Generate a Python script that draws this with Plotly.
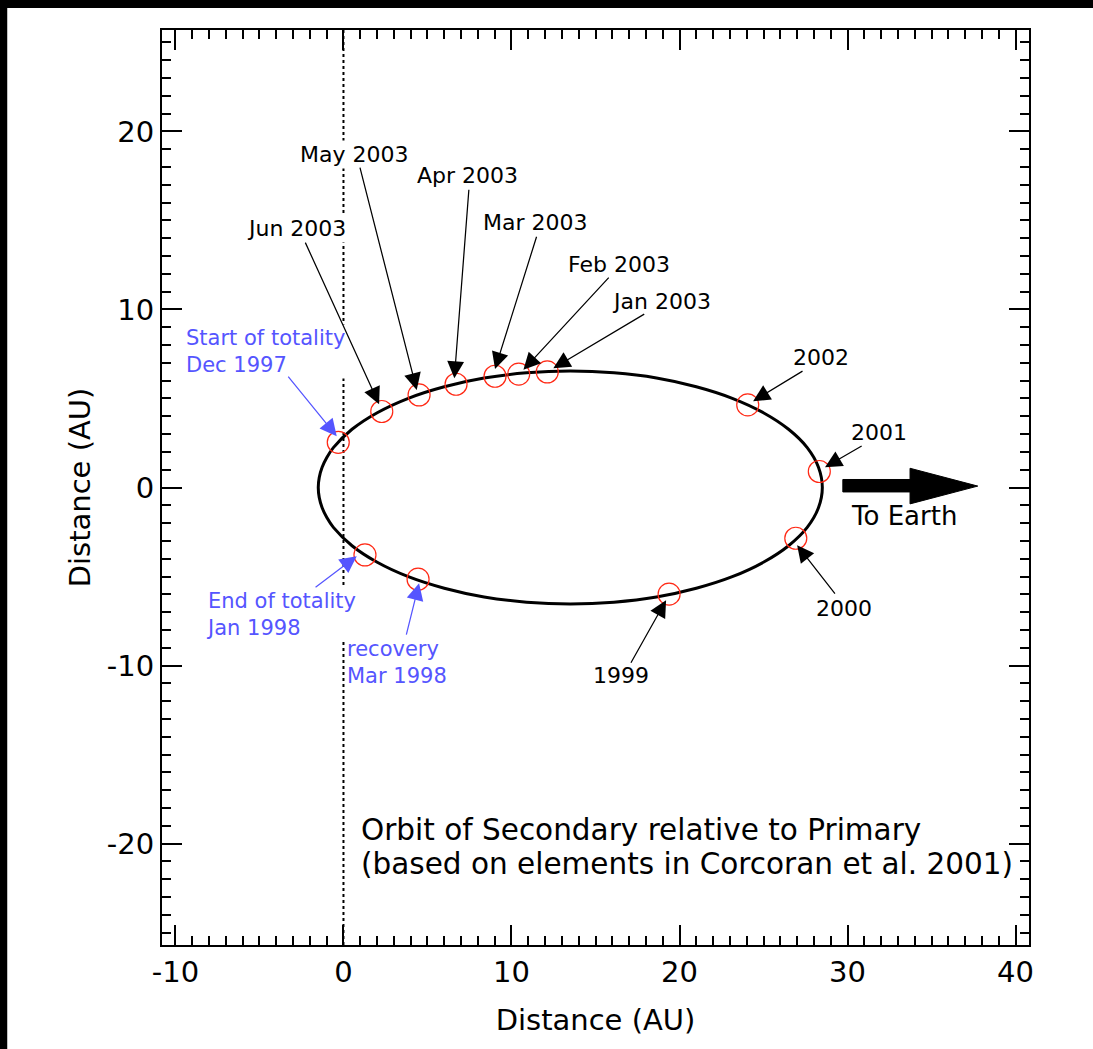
import plotly.graph_objects as go

# ---------------- data ----------------
# relative orbit of the secondary (AU)
orbit_x = [28.50, 28.27, 27.60, 26.49, 24.99, 23.14, 21.00, 18.63, 16.10, 13.50,
           10.90, 8.37, 6.00, 3.86, 2.01, 0.51, -0.60, -0.99, -1.27, -1.44, -1.50,
           -1.44, -1.27, -0.99, -0.60, 0.51, 2.01, 3.86, 6.00, 8.37, 10.90,
           13.50, 16.10, 18.63, 21.00, 23.14, 24.99, 26.49, 27.60, 28.27, 28.50]
orbit_y = [0.00, 1.14, 2.24, 3.27, 4.20, 5.01, 5.66, 6.15, 6.44, 6.54,
           6.44, 6.15, 5.66, 5.01, 4.20, 3.27, 2.24, 1.69, 1.14, 0.57, 0.00,
           -0.57, -1.14, -1.69, -2.24, -3.27, -4.20, -5.01, -5.66, -6.15, -6.44,
           -6.54, -6.44, -6.15, -5.66, -5.01, -4.20, -3.27, -2.24, -1.14, 0.00]

# marked epochs (red circles)
epoch_names = ["Start of totality", "Jun 2003", "May 2003", "Apr 2003", "Mar 2003",
               "Feb 2003", "Jan 2003", "2002", "2001", "2000", "1999",
               "recovery", "End of totality"]
epoch_x = [-0.31, 2.28, 4.50, 6.70, 9.02, 10.43, 12.13, 24.06, 28.32, 26.92, 19.38, 4.44, 1.28]
epoch_y = [2.54, 4.27, 5.20, 5.80, 6.25, 6.37, 6.49, 4.64, 0.90, -2.85, -5.99, -5.15, -3.79]

# pointer arrows: tail -> tip (AU)
arrow_tail_x = [-2.31, 0.96, 7.47, 11.52, 15.87, 17.99, 27.41, 30.93, 29.32, 17.06, -3.36, -1.75, 3.72]
arrow_tail_y = [13.84, 18.05, 16.81, 14.17, 11.87, 9.79, 6.59, 2.38, -6.05, -9.93, 6.31, -5.66, -8.35]
arrow_tip_x = [2.12, 4.36, 6.60, 9.02, 10.71, 12.49, 24.38, 28.66, 27.00, 19.20, -0.40, 0.79, 4.50]
arrow_tip_y = [4.68, 5.48, 6.14, 6.65, 6.61, 6.70, 4.85, 1.14, -3.24, -6.33, 2.88, -3.86, -5.38]
arrow_is_blue = [False] * 10 + [True] * 3

# black labels (centred)
label_text = ["Jun 2003", "May 2003", "Apr 2003", "Mar 2003", "Feb 2003", "Jan 2003",
              "2002", "2001", "2000", "1999"]
label_x = [-2.82, 0.63, 7.39, 11.40, 16.40, 18.90, 28.40, 31.85, 29.77, 16.49]
label_y = [14.57, 18.72, 17.54, 14.90, 12.54, 10.47, 7.32, 3.11, -6.78, -10.54]

# blue labels (left aligned, two lines each)
blue_text = ["Start of totality<br>Dec 1997", "End of totality<br>Jan 1998", "recovery<br>Mar 1998"]
blue_x = [-9.50, -8.30, 0.12]
blue_y = [7.66, -7.15, -9.84]
blue_box = [True, True, False]

# vertical reference line through the primary
ref_x = [0, 0]
ref_y = [-25.7, 25.7]

# "To Earth" arrow outline
earth_x = [29.72, 33.72, 33.72, 37.75, 33.72, 33.72, 29.72, 29.72]
earth_y = [0.45, 0.45, 1.08, 0.08, -0.92, -0.25, -0.25, 0.45]
earth_label = "To Earth"
earth_label_x = 33.37
earth_label_y = -1.60

caption_lines = ["Orbit of Secondary relative to Primary",
                 "(based on elements in Corcoran et al. 2001)"]
caption_x = 0.95
caption_y = [-19.24, -21.15]

x_range = [-10.8, 40.8]
y_range = [-25.7, 25.7]
x_tickvals = [-10, 0, 10, 20, 30, 40]
x_ticktext = ["-10", "0", "10", "20", "30", "40"]
y_tickvals = [-20, -10, 0, 10, 20]
y_ticktext = ["-20", "-10", "0", "10", "20"]

# ---------------- figure ----------------
FONT = "DejaVu Sans"
BLUE = "rgb(85,85,255)"
RED = "rgb(255,40,20)"

fig = go.Figure()

fig.add_trace(go.Scatter(x=ref_x, y=ref_y, mode="lines",
                         line=dict(color="black", width=2, dash="dot"),
                         hoverinfo="skip", showlegend=False))
fig.add_trace(go.Scatter(x=orbit_x, y=orbit_y, mode="lines",
                         line=dict(color="black", width=3, shape="spline", smoothing=1.0),
                         hoverinfo="skip", showlegend=False))
fig.add_trace(go.Scatter(x=epoch_x, y=epoch_y, mode="markers",
                         marker=dict(symbol="circle-open", size=22, color=RED,
                                     line=dict(color=RED, width=1.2)),
                         text=epoch_names, hoverinfo="text", showlegend=False))
fig.add_trace(go.Scatter(x=earth_x, y=earth_y, mode="lines", fill="toself",
                         fillcolor="black", line=dict(color="black", width=1),
                         hoverinfo="skip", showlegend=False))

annotations = []
for t, x, y in zip(label_text, label_x, label_y):
    annotations.append(dict(x=x, y=y, xref="x", yref="y", text=t, showarrow=False,
                            font=dict(family=FONT, size=22, color="black"),
                            bgcolor="white", xanchor="center", yanchor="middle"))
for t, x, y, box in zip(blue_text, blue_x, blue_y, blue_box):
    bg = "white" if box else "rgba(0,0,0,0)"
    annotations.append(dict(x=x, y=y, xref="x", yref="y", text=t, showarrow=False,
                            font=dict(family=FONT, size=21, color=BLUE),
                            bgcolor=bg, xanchor="left", yanchor="middle", align="left"))
annotations.append(dict(x=earth_label_x, y=earth_label_y, xref="x", yref="y",
                        text=earth_label, showarrow=False,
                        font=dict(family=FONT, size=26, color="black"),
                        xanchor="center", yanchor="middle"))
for t, y in zip(caption_lines, caption_y):
    annotations.append(dict(x=caption_x, y=y, xref="x", yref="y", text=t, showarrow=False,
                            font=dict(family=FONT, size=29.5, color="black"),
                            xanchor="left", yanchor="middle"))
for tx, ty, hx, hy, blue in zip(arrow_tail_x, arrow_tail_y, arrow_tip_x, arrow_tip_y, arrow_is_blue):
    col = BLUE if blue else "black"
    annotations.append(dict(x=hx, y=hy, ax=tx, ay=ty, xref="x", yref="y",
                            axref="x", ayref="y", text="", showarrow=True,
                            arrowhead=2, arrowsize=2.7, arrowwidth=1.25,
                            arrowcolor=col, standoff=0))

axis_common = dict(showgrid=False, zeroline=False, showline=True, linecolor="black",
                   linewidth=2, ticks="inside", tickcolor="black", tickwidth=2,
                   mirror="ticks", tickfont=dict(family=FONT, size=29, color="black"))

fig.update_layout(
    width=1093, height=1049,
    margin=dict(l=162, r=64, t=30, b=104, pad=0),
    paper_bgcolor="white", plot_bgcolor="white",
    showlegend=False,
    font=dict(family=FONT, color="black"),
    xaxis=dict(range=x_range, tickmode="array", tickvals=x_tickvals, ticktext=x_ticktext,
               ticklen=20,
               minor=dict(dtick=1, tick0=0, ticklen=9, tickwidth=2, ticks="inside",
                          tickcolor="black", showgrid=False),
               title=dict(text="Distance (AU)", font=dict(family=FONT, size=29), standoff=22),
               **axis_common),
    yaxis=dict(range=y_range, tickmode="array", tickvals=y_tickvals, ticktext=y_ticktext,
               ticklen=20,
               minor=dict(dtick=1, tick0=0, ticklen=9, tickwidth=2, ticks="inside",
                          tickcolor="black", showgrid=False),
               title=dict(text="Distance (AU)", font=dict(family=FONT, size=29), standoff=8),
               **axis_common),
    xaxis2=dict(range=x_range, overlaying="x", anchor="y", side="bottom", tick0=0, dtick=5,
                ticks="inside", ticklen=13, tickwidth=2, tickcolor="black", mirror="ticks",
                showticklabels=False, showline=False, showgrid=False, zeroline=False),
    yaxis2=dict(range=y_range, overlaying="y", anchor="x", side="left", tick0=0, dtick=5,
                ticks="inside", ticklen=13, tickwidth=2, tickcolor="black", mirror="ticks",
                showticklabels=False, showline=False, showgrid=False, zeroline=False),
    annotations=annotations,
    shapes=[
        dict(type="rect", xref="paper", yref="paper", x0=-1, x1=-0.1785, y0=-1, y1=2,
             fillcolor="black", line=dict(width=0), layer="above"),
        dict(type="rect", xref="paper", yref="paper", x0=-1, x1=2, y0=1.0240, y1=2,
             fillcolor="black", line=dict(width=0), layer="above"),
    ],
)

fig.write_html("out.html")
